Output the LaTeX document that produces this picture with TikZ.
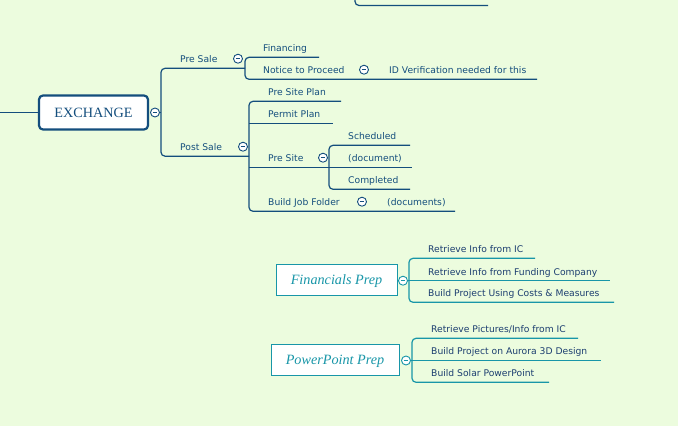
\documentclass[tikz,border=0pt]{standalone}
\usepackage{fontspec}
\setmainfont{DejaVu Sans}
\newfontfamily\serifx{Liberation Serif}
\definecolor{bg}{RGB}{236,252,222}
\definecolor{dblue}{RGB}{20,78,125}
\definecolor{tealc}{RGB}{24,150,168}
\definecolor{navy}{RGB}{28,62,112}
\begin{document}
\begin{tikzpicture}[x=1pt,y=-1pt,
 lbl/.style={anchor=base west, inner sep=0, font=\fontsize{9.2}{11}\selectfont, text=dblue},
 blbl/.style={lbl, text=navy},
 conn/.style={draw=dblue, line width=1.2, rounded corners=4},
 tconn/.style={draw=tealc, line width=1.2, rounded corners=4},
 tog/.style={circle, draw=#1, fill=white, line width=0.9, minimum size=9, inner sep=0,
   path picture={\draw[#1,line width=0.9] ([xshift=-2.3pt]path picture bounding box.center) -- ([xshift=2.3pt]path picture bounding box.center);}},
 tog/.default=dblue,
 exbox/.style={draw=dblue, line width=2.2, rounded corners=4, fill=white, minimum width=109, minimum height=34, inner sep=0, text=dblue, font=\serifx\fontsize{14.2}{16}\selectfont},
 prepbox/.style={draw=tealc, line width=1, fill=white, minimum height=31, inner sep=0, text depth=0pt, text=tealc, font=\serifx\itshape\fontsize{14.2}{16}\selectfont},
]
\fill[bg] (0,0) rectangle (678,426);
\useasboundingbox (0,0) rectangle (678,426);

% partial branch at top
\coordinate (topup) at (355,-4);
\coordinate (topend) at (488,5.5);
\draw[conn] (topup) |- (topend);

% central node
\coordinate (leftin) at (0,112.5);
\node[exbox] (ex) at (93.5,112.5) {EXCHANGE};
\draw[conn] (leftin) -- (ex.west);
\node[tog] (tex) at (155,112.5) {};
\coordinate (b0) at (161,112.5);
\draw[conn] (tex.east) -- (b0);

% first level
\node[lbl] (presale) at (180,62.7) {Pre Sale};
\node[tog] (tpresale) at (238,58.7) {};
\node[lbl] (postsale) at (180,150.6) {Post Sale};
\node[tog] (tpostsale) at (243,146.7) {};
\coordinate (b1) at (245,68.3);
\coordinate (b2) at (249,156.2);
\draw[conn] (b1) -| (b0) |- (b2);

% Pre Sale children
\node[lbl] (fin) at (263,51.7) {Financing};
\node[lbl] (ntp) at (263,73.7) {Notice to Proceed};
\node[tog] (tntp) at (364,69.7) {};
\node[lbl] (idv) at (389,73.7) {ID Verification needed for this};
\coordinate (fin-e) at (319,57.3);
\coordinate (idv-e) at (537,79.3);
\draw[conn] (fin-e) -| (b1) |- (idv-e);

% Post Sale children
\node[lbl] (psp) at (268,95.7) {Pre Site Plan};
\node[lbl] (pp) at (268,117.7) {Permit Plan};
\node[lbl] (ps) at (268,161.7) {Pre Site};
\node[tog] (tps) at (323,157.7) {};
\node[lbl] (bjf) at (268,205.7) {Build Job Folder};
\node[tog] (tbjf) at (362,201.7) {};
\node[lbl] (docs) at (387,205.7) {(documents)};
\coordinate (psp-e) at (341,101.3);
\coordinate (pp-s) at (249,123.3);
\coordinate (pp-e) at (333,123.3);
\coordinate (ps-s) at (249,167.3);
\coordinate (docs-e) at (455,211.3);
\draw[conn] (psp-e) -| (b2) |- (docs-e);
\draw[conn] (pp-s) -- (pp-e);

% Pre Site children
\node[lbl] (sch) at (348,139.7) {Scheduled};
\node[lbl] (doc) at (348,161.7) {(document)};
\node[lbl] (comp) at (348,183.7) {Completed};
\coordinate (b3) at (329,167.3);
\coordinate (sch-e) at (410,145.3);
\coordinate (doc-e) at (412,167.3);
\coordinate (comp-e) at (410,189.3);
\draw[conn] (ps-s) -- (doc-e);
\draw[conn] (sch-e) -| (b3) |- (comp-e);

% Financials Prep
\node[prepbox, minimum width=121] (fp) at (336.5,279.5) {Financials Prep};
\node[tog=tealc] (tfp) at (403,280.7) {};
\node[blbl] (r1) at (428,252.7) {Retrieve Info from IC};
\node[blbl] (r2) at (428,275.1) {Retrieve Info from Funding Company};
\node[blbl] (r3) at (428,296.7) {Build Project Using Costs \& Measures};
\coordinate (b4) at (409,280.7);
\coordinate (r1-e) at (535,258.3);
\coordinate (r2-e) at (610,280.7);
\coordinate (r3-e) at (614,302.3);
\draw[tconn] (tfp.east) -- (r2-e);
\draw[tconn] (r1-e) -| (b4) |- (r3-e);

% PowerPoint Prep
\node[prepbox, minimum width=128] (pw) at (335,359.5) {PowerPoint Prep};
\node[tog=tealc] (tpw) at (406,360.5) {};
\node[blbl] (q1) at (431,332.7) {Retrieve Pictures/Info from IC};
\node[blbl] (q2) at (431,354.9) {Build Project on Aurora 3D Design};
\node[blbl] (q3) at (431,376.7) {Build Solar PowerPoint};
\coordinate (b5) at (412,360.5);
\coordinate (q1-e) at (578,338.3);
\coordinate (q2-e) at (601,360.5);
\coordinate (q3-e) at (549,382.3);
\draw[tconn] (tpw.east) -- (q2-e);
\draw[tconn] (q1-e) -| (b5) |- (q3-e);
\end{tikzpicture}
\end{document}
